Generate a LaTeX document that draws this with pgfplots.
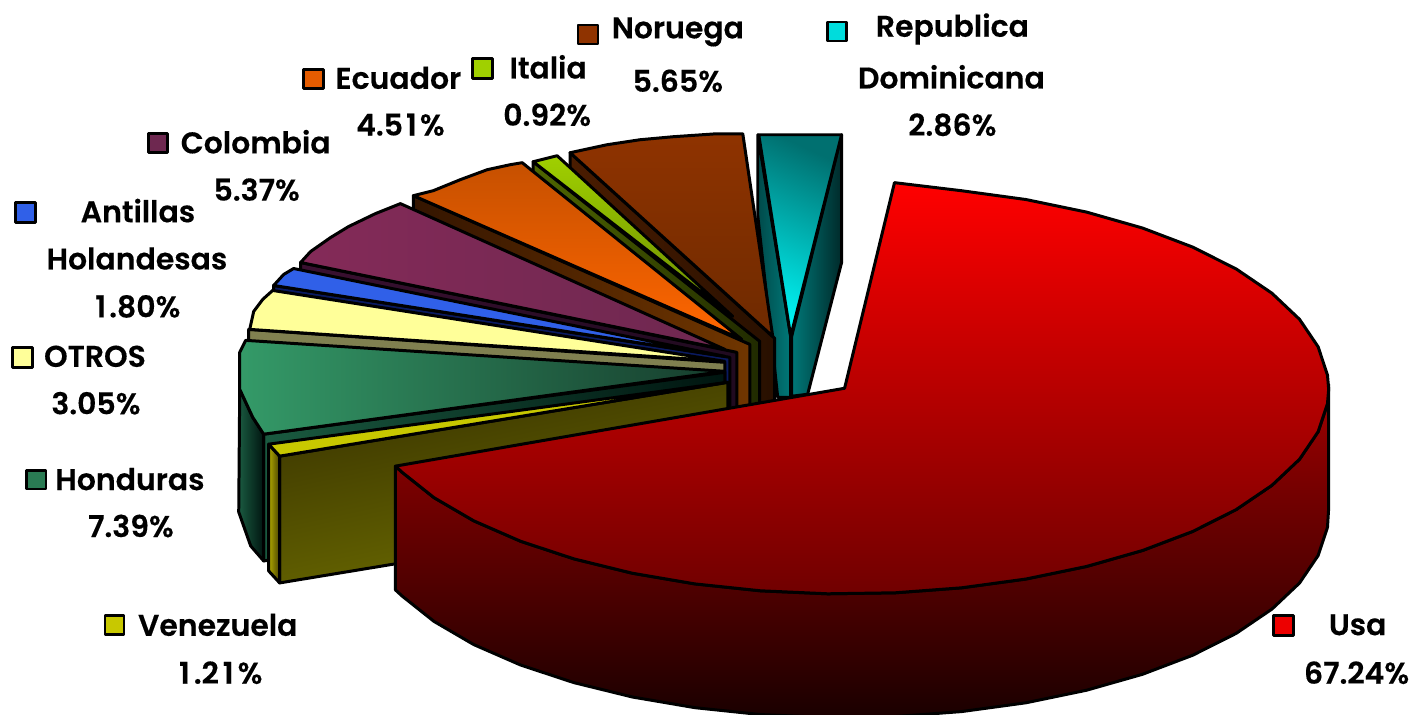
\documentclass[border=0pt]{standalone}
\usepackage{pgfplots}
\pgfplotsset{compat=1.18}
\usepackage{fontspec}
\setmainfont[BoldFont={Poppins SemiBold},BoldFeatures={FakeBold=0.35}]{Poppins}
\begin{document}
\tikzset{
  ed/.style={draw=black,line width=3pt,line join=round,mark=none},
  key/.style={draw=black,line width=2.8pt,line join=round,mark=none},
  lab/.style={font=\fontsize{30}{34}\selectfont\bfseries,inner sep=0pt,text=black,anchor=center},
}
\begin{tikzpicture}
\begin{axis}[width=1417pt,height=716pt,scale only axis,xmin=1.5,xmax=1418.5,ymin=0,ymax=716,y dir=reverse,hide axis,clip=true]
\coordinate (pa) at (axis cs:1.5,716);
\coordinate (pb) at (axis cs:1418.5,0);
% Republica Dominicana
\definecolor{rw1}{HTML}{004A4A}\definecolor{rw2}{HTML}{007878}\definecolor{rw3}{HTML}{002A2A}\definecolor{rt1}{HTML}{007070}\definecolor{rt2}{HTML}{00F4F4}
\addplot[ed,left color=rw1,right color=rw2] coordinates {(758,135)(758,216)(775,370)(778,398)(791,398)(791,337)} --cycle;
\addplot[ed,left color=rw2,right color=rw3] coordinates {(842,135)(792,337)(792,397)(808,395)(842,263)} --cycle;
\addplot[ed,top color=rt1,bottom color=rt2,shading angle=-25] coordinates {(759,135)(842,135)(791,337)} --cycle;
% Noruega
\definecolor{nw1}{HTML}{4A1C00}\definecolor{nw2}{HTML}{281000}\definecolor{nt}{HTML}{8F3300}\definecolor{nb}{HTML}{6E2A00}
\addplot[ed,left color=nw1,right color=nw2] coordinates {(570,153)(775,339)(775,460)(570,280)} --cycle;
\addplot[ed,top color=nt,bottom color=nb] coordinates {(570,153)(607,145)(640,140)(673,137)(717,134)(743,134)(773,337)} --cycle;
% Italia
\definecolor{iw1}{HTML}{4F6600}\definecolor{iw2}{HTML}{202A00}\definecolor{it1}{HTML}{A0D000}\definecolor{it2}{HTML}{6A8A00}
\addplot[ed,left color=iw1,right color=iw2] coordinates {(533,162)(760,342)(760,462)(533,285)} --cycle;
\addplot[ed,top color=it1,bottom color=it2] coordinates {(533,162)(545,159)(557,156)(733,317)} --cycle;
% Ecuador
\definecolor{ew1}{HTML}{341500}\definecolor{ew2}{HTML}{703600}\definecolor{et1}{HTML}{C65000}\definecolor{et2}{HTML}{FF6600}
\addplot[ed,left color=ew1,right color=ew2] coordinates {(413,196)(750,345)(750,465)(413,316)} --cycle;
\addplot[ed,top color=et1,bottom color=et2] coordinates {(413,196)(433,191)(460,180)(487,170)(510,165)(522,163)(742,340)} --cycle;
% Colombia
\definecolor{cw1}{HTML}{3A1030}\definecolor{cw2}{HTML}{200A20}\definecolor{ct1}{HTML}{842A58}\definecolor{ct2}{HTML}{6E2850}
\addplot[ed,left color=cw1,right color=cw2] coordinates {(300,263)(737,353)(737,480)(300,390)} --cycle;
\addplot[ed,left color=ct1,right color=ct2] coordinates {(300,263)(310,252)(330,238)(348,227)(375,214)(400,204)(725,350)} --cycle;
% Antillas
\definecolor{aw}{HTML}{0A1A60}\definecolor{at}{HTML}{3060E8}
\addplot[ed,fill=aw] coordinates {(273,286)(730,358)(730,470)(273,400)} --cycle;
\addplot[ed,fill=at] coordinates {(273,286)(283,275)(293,269)(725,357)} --cycle;
% OTROS
\definecolor{ow}{HTML}{808050}\definecolor{ot}{HTML}{FFFF99}
\addplot[ed,fill=ow] coordinates {(248,330)(725,363)(725,480)(248,450)} --cycle;
\addplot[ed,fill=ot] coordinates {(272,291)(262,300)(253,312)(249,330)(725,362)} --cycle;
% Honduras
\definecolor{hw1}{HTML}{1A5A40}\definecolor{hw2}{HTML}{001510}\definecolor{ht1}{HTML}{349A68}\definecolor{ht2}{HTML}{163C2C}
\addplot[ed,left color=hw1,right color=hw2] coordinates {(263,435)(725,373)(725,490)(263,562)} --cycle;
\addplot[ed,left color=hw1,right color=hw2] coordinates {(239,390)(252,418)(263,435)(263,562)(250,547)(238,513)} --cycle;
\addplot[ed,left color=ht1,right color=ht2] coordinates {(245,341)(239,353)(239,390)(252,418)(263,435)(725,372)} --cycle;
% Venezuela
\definecolor{vw1}{HTML}{3A3400}\definecolor{vw2}{HTML}{6E6E00}\definecolor{vs}{HTML}{B0A800}\definecolor{vt}{HTML}{C8C800}\definecolor{vs2}{HTML}{4A4400}
\addplot[ed,top color=vw1,bottom color=vw2,shading angle=12] coordinates {(279,457)(728,383)(728,510)(279,584)} --cycle;
\addplot[ed,left color=vs,right color=vs2] coordinates {(268,445)(279,457)(279,584)(268,572)} --cycle;
\addplot[ed,fill=vt] coordinates {(268,445)(728,383)(279,457)} --cycle;
% Usa
\definecolor{uw1}{HTML}{A00000}\definecolor{uw2}{HTML}{1A0000}\definecolor{ut1}{HTML}{FF0000}\definecolor{ut2}{HTML}{C80000}\definecolor{ut3}{HTML}{700000}
\addplot[ed,top color=uw1,bottom color=uw2] coordinates {(1330,385)(1328.8,404.3)(1319.4,432.6)(1300.8,460.1)(1273.2,486.2)(1237.4,510.5)(1193.9,532.4)(1143.6,551.5)(1087.5,567.5)(1026.7,580.1)(962.3,588.9)(895.7,593.9)(828.1,594.9)(760.8,591.9)(695.1,585)(632.4,574.3)(573.8,559.9)(520.5,542.3)(473.5,521.8)(433.7,498.6)(402,473.4)(395,467)(395,591)(402,597.4)(433.7,622.6)(473.5,645.8)(520.5,666.3)(573.8,683.9)(632.4,698.3)(695.1,709)(760.8,715.9)(828.1,718.9)(895.7,717.9)(962.3,712.9)(1026.7,704.1)(1087.5,691.5)(1143.6,675.5)(1193.9,656.4)(1237.4,634.5)(1273.2,610.2)(1300.8,584.1)(1319.4,556.6)(1328.8,528.3)(1330,509)} --cycle;
\addplot[ed,top color=ut1,middle color=ut2,bottom color=ut3] coordinates {(895,183)(962.3,191.1)(1026.7,199.9)(1087.5,212.5)(1143.6,228.5)(1193.9,247.6)(1237.4,269.5)(1273.2,293.8)(1300.8,319.9)(1319.4,347.4)(1328.8,375.7)(1330,390)(1328.8,404.3)(1319.4,432.6)(1300.8,460.1)(1273.2,486.2)(1237.4,510.5)(1193.9,532.4)(1143.6,551.5)(1087.5,567.5)(1026.7,580.1)(962.3,588.9)(895.7,593.9)(828.1,594.9)(760.8,591.9)(695.1,585)(632.4,574.3)(573.8,559.9)(520.5,542.3)(473.5,521.8)(433.7,498.6)(402,473.4)(395,467)(845,389)} --cycle;
% keys
\addplot[key,fill=nt] coordinates {(578,25)(598,25)(598,44)(578,44)} --cycle;
\addplot[key,fill=rt2!90!black] coordinates {(828,22)(847,22)(847,41)(828,41)} --cycle;
\addplot[key,fill=et2!90!black] coordinates {(303,70)(323,70)(323,89)(303,89)} --cycle;
\addplot[key,fill=it1] coordinates {(472,59)(492,59)(492,79)(472,79)} --cycle;
\addplot[key,fill=ct2] coordinates {(148,134)(167,134)(167,153)(148,153)} --cycle;
\addplot[key,fill=at] coordinates {(14,203)(34,203)(34,223)(14,223)} --cycle;
\addplot[key,fill=ot] coordinates {(11,348)(31,348)(31,368)(11,368)} --cycle;
\addplot[key,fill=ht1!80!black] coordinates {(25,471)(45,471)(45,490)(25,490)} --cycle;
\addplot[key,fill=vt] coordinates {(104,617)(123,617)(123,636)(104,636)} --cycle;
\addplot[key,fill=ut1!93!black] coordinates {(1275,617)(1295,617)(1295,637)(1275,637)} --cycle;
% labels
\node[lab] at (axis cs:678,32) {Noruega};
\node[lab] at (axis cs:678,81) {5.65\%};
\node[lab] at (axis cs:953,29) {Republica};
\node[lab] at (axis cs:952,77) {Dominicana};
\node[lab] at (axis cs:953,125) {2.86\%};
\node[lab] at (axis cs:398,78) {Ecuador};
\node[lab] at (axis cs:400,125) {4.5\kern3pt1\kern3pt\%};
\node[lab] at (axis cs:548,67) {Italia};
\node[lab] at (axis cs:547,115) {0.92\%};
\node[lab] at (axis cs:255,142) {Colombia};
\node[lab] at (axis cs:256,190) {5.37\%};
\node[lab] at (axis cs:137,211) {Antillas};
\node[lab] at (axis cs:136,259) {Holandesas};
\node[lab] at (axis cs:137,307) {1\kern3pt.80\%};
\node[lab] at (axis cs:94,357) {OTROS};
\node[lab] at (axis cs:95,404) {3.05\%};
\node[lab] at (axis cs:129,480) {Honduras};
\node[lab] at (axis cs:130,527) {7.39\%};
\node[lab] at (axis cs:217,626) {Venezuela};
\node[lab] at (axis cs:220,674) {1\kern4pt.2\kern4pt1\kern4pt\%};
\node[lab] at (axis cs:1359,626) {Usa};
\node[lab] at (axis cs:1358,674) {67.24\%};
\end{axis}
\pgfresetboundingbox
\path[use as bounding box] (pa) rectangle (pb);
\end{tikzpicture}
\end{document}
